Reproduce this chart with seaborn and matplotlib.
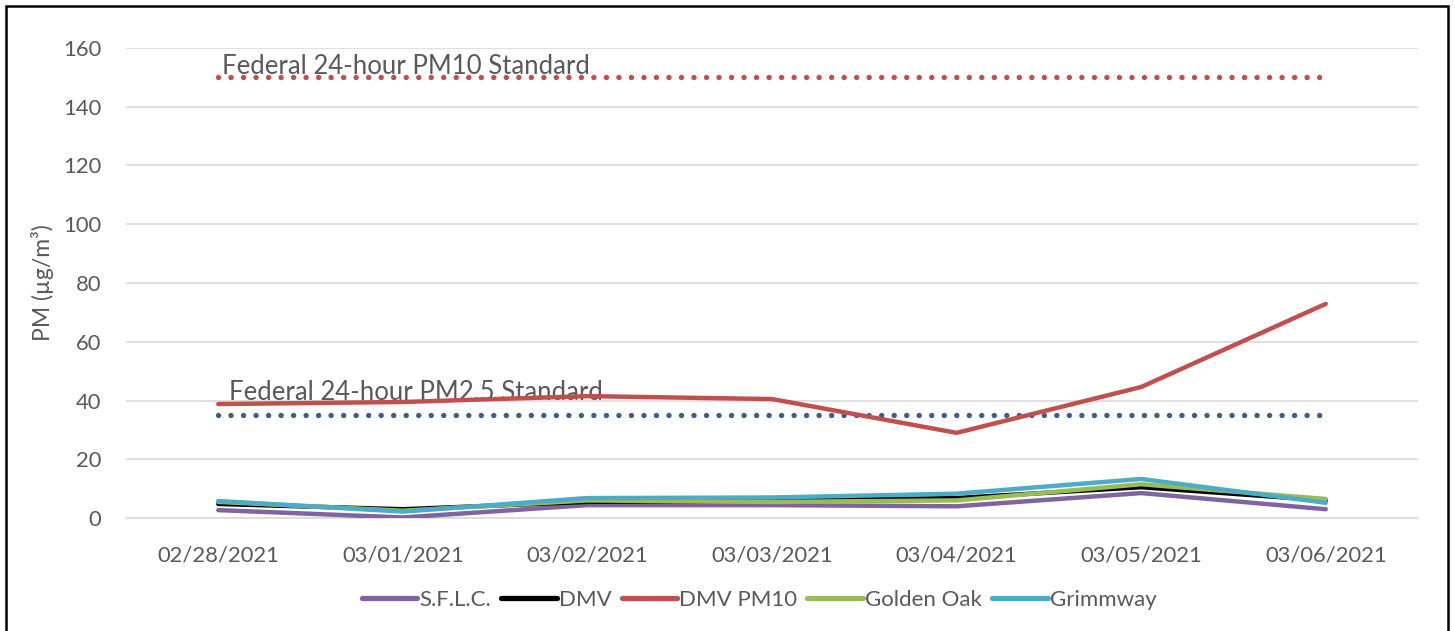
import matplotlib
matplotlib.use("Agg")
import matplotlib.pyplot as plt
import seaborn as sns
import pandas as pd
from matplotlib.patches import Rectangle

dates = ["02/28/2021", "03/01/2021", "03/02/2021", "03/03/2021",
         "03/04/2021", "03/05/2021", "03/06/2021"]
sflc = [2.7, 0.2, 4.4, 4.4, 4.0, 8.5, 3.0]
dmv = [4.8, 3.0, 5.5, 6.0, 6.8, 10.5, 6.0]
dmv_pm10 = [38.8, 39.5, 41.5, 40.5, 29.0, 44.6, 72.9]
golden_oak = [5.5, 2.5, 6.0, 5.5, 6.0, 11.5, 6.5]
grimmway = [5.8, 2.2, 6.8, 7.0, 8.3, 13.3, 5.2]
pm10_std = 150
pm25_std = 35

series = {"S.F.L.C.": sflc, "DMV": dmv, "DMV PM10": dmv_pm10,
          "Golden Oak": golden_oak, "Grimmway": grimmway}
colors = {"S.F.L.C.": "#8064A2", "DMV": "#000000", "DMV PM10": "#C0504D",
          "Golden Oak": "#9BBB59", "Grimmway": "#4BACC6"}

rows = []
for name, vals in series.items():
    for i, v in enumerate(vals):
        rows.append({"x": i, "date": dates[i], "series": name, "pm": v})
df = pd.DataFrame(rows)

sns.set_style("white")
plt.rcParams['font.family'] = ['Lato', 'DejaVu Sans']

fig = plt.figure(figsize=(14.55, 6.31), dpi=100)
ax = fig.add_axes([0.0866, 0.179, 0.888, 0.745])

gray = "#595959"
# standards
xs = list(range(len(dates)))
ax.plot(xs, [pm10_std] * len(xs), color="#C0504D", lw=3.9,
        linestyle=(0, (0.01, 2.3)), dash_capstyle="round", zorder=3)
ax.plot(xs, [pm25_std] * len(xs), color="#3E5F8A", lw=3.9,
        linestyle=(0, (0.01, 2.3)), dash_capstyle="round", zorder=3)
ax.text(0.02, pm10_std - 0.5, "Federal 24-hour PM10 Standard", color=gray,
        fontsize=18.5, ha="left", va="bottom", zorder=4)
ax.text(0.06, pm25_std + 3.5, "Federal 24-hour PM2.5 Standard", color=gray,
        fontsize=18.5, ha="left", va="bottom", zorder=4)

sns.lineplot(data=df, x="x", y="pm", hue="series", palette=colors,
             hue_order=list(series.keys()), lw=3.2, ax=ax, legend=True,
             zorder=5)

ax.set_xlim(-0.5, len(dates) - 0.5)
ax.set_ylim(0, 160)
ax.set_yticks(range(0, 161, 20))
ax.yaxis.grid(True, color="#D9D9D9", lw=1.2)
ax.set_axisbelow(True)
ax.set_xticks(xs)
ax.set_xticklabels(dates)
ax.set_xticks([i - 0.5 for i in range(len(dates) + 1)], minor=True)
ax.tick_params(axis="x", which="major", length=0, pad=20, labelsize=15.8,
               labelcolor=gray)
ax.tick_params(axis="x", which="minor", length=8, width=1.2, color="#D9D9D9")
ax.tick_params(axis="y", length=0, pad=18, labelsize=15.8, labelcolor=gray)
for s in ["top", "right", "left"]:
    ax.spines[s].set_visible(False)
ax.spines["bottom"].set_color("#D9D9D9")
ax.spines["bottom"].set_linewidth(1.2)
ax.set_xlabel("")
ax.set_ylabel("PM (µg/m³)", fontsize=16.5, color=gray, labelpad=6)

leg = ax.legend(loc="upper center", bbox_to_anchor=(0.49, -0.11), ncol=5,
                frameon=False, fontsize=16, handlelength=2.5,
                handletextpad=0.1, columnspacing=0.45)
for t in leg.get_texts():
    t.set_color(gray)
for h in leg.get_lines():
    h.set_linewidth(3.8)

fig.patches.append(Rectangle((6 / 1455, -0.01), 1442 / 1455, 1 - 6 / 631 + 0.01,
                             transform=fig.transFigure, fill=False,
                             edgecolor="black", lw=1.8))

fig.savefig("out.png", dpi=100)
